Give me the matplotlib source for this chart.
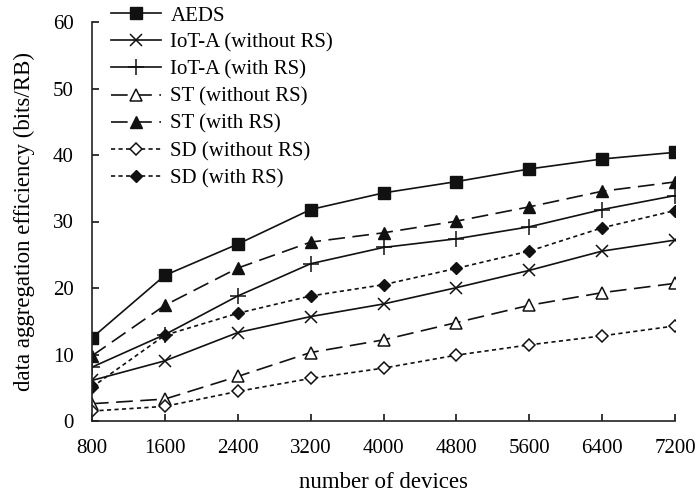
import matplotlib
matplotlib.use("Agg")
import matplotlib.pyplot as plt

plt.rcParams['font.family'] = ['Liberation Serif', 'DejaVu Serif']

devices = [800, 1600, 2400, 3200, 4000, 4800, 5600, 6400, 7200]

aeds = [12.5, 21.9, 26.6, 31.8, 34.3, 36.0, 37.9, 39.4, 40.4]
iot_without = [6.1, 9.05, 13.3, 15.7, 17.6, 20.05, 22.65, 25.55, 27.2]
iot_with = [8.1, 13.0, 18.8, 23.65, 26.1, 27.4, 29.2, 31.8, 33.9]
st_without = [2.6, 3.3, 6.7, 10.3, 12.2, 14.8, 17.4, 19.3, 20.7]
st_with = [9.8, 17.4, 23.0, 26.9, 28.3, 30.05, 32.2, 34.55, 35.95]
sd_without = [1.5, 2.2, 4.45, 6.4, 7.95, 9.9, 11.45, 12.8, 14.3]
sd_with = [5.1, 12.9, 16.2, 18.8, 20.5, 22.95, 25.55, 29.05, 31.65]

fig = plt.figure(figsize=(6.97, 4.96), dpi=100)
ax = fig.add_axes([92/697, 1-421/496, (675-92)/697, (421-22)/496])

lw = 1.2
long_dash = (0, (10, 4.5))
short_dash = (0, (2.5, 2))

ax.plot(devices, aeds, color='#111111', lw=lw, marker='s', ms=8.5, label='AEDS')
ax.plot(devices, iot_without, color='#111111', lw=lw, marker='x', ms=9, mew=1.1,
        label='IoT-A (without RS)')
ax.plot(devices, iot_with, color='#111111', lw=lw, marker='+', ms=11, mew=1.1,
        label='IoT-A (with RS)')
ax.plot(devices, st_without, color='#111111', lw=lw, ls=long_dash, marker='^', ms=8,
        mfc='white', mew=1.1, label='ST (without RS)')
ax.plot(devices, st_with, color='#111111', lw=lw, ls=long_dash, marker='^', ms=8,
        label='ST (with RS)')
ax.plot(devices, sd_without, color='#111111', lw=lw, ls=short_dash, marker='D', ms=6,
        mfc='white', mew=1.1, label='SD (without RS)')
ax.plot(devices, sd_with, color='#111111', lw=lw, ls=short_dash, marker='D', ms=6,
        label='SD (with RS)')

ax.set_xlim(800, 7200)
ax.set_ylim(0, 60)
ax.set_xticks(devices)
ax.set_yticks(range(0, 61, 10))
ax.spines['top'].set_visible(False)
ax.spines['right'].set_visible(False)
for s in ['left', 'bottom']:
    ax.spines[s].set_linewidth(1.2)
    ax.spines[s].set_color('#222222')
ax.tick_params(axis='x', direction='in', length=5, width=1.1, labelsize=15, pad=13)
ax.tick_params(axis='y', direction='in', length=5, width=1.1, labelsize=15, pad=13)
ax.set_xlabel('number of devices', fontsize=16.5, labelpad=10)
ax.set_ylabel('data aggregation efficiency (bits/RB)', fontsize=16.5, labelpad=13)

ax.legend(loc='upper left', bbox_to_anchor=(111/697, 1-6/496),
          bbox_transform=fig.transFigure, frameon=False, fontsize=15,
          handlelength=2.4, handletextpad=0.45, labelspacing=0.36,
          borderpad=0, borderaxespad=0)

fig.savefig('out.png', dpi=100)
